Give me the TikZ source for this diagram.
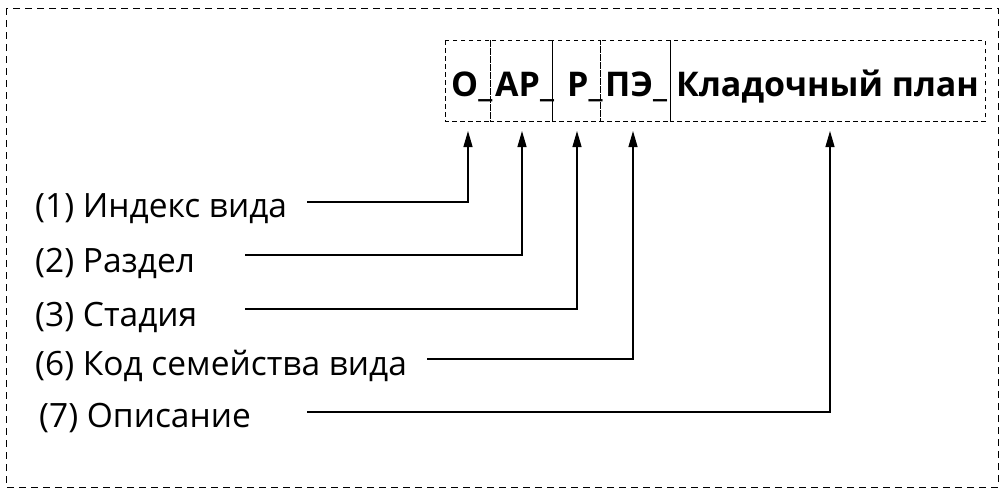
\documentclass[tikz,border=0pt]{standalone}
\usepackage{fontspec}
\setmainfont{Open Sans}
\usetikzlibrary{arrows.meta}
\begin{document}
\begin{tikzpicture}[x=1pt,y=-1pt,
  frame/.style={draw,line width=1pt,dash pattern=on 7pt off 5pt},
  cell/.style={draw,line width=0.8pt,dash pattern=on 4.5pt off 3.5pt},
  lbl/.style={anchor=base west,inner sep=0pt,font=\fontsize{33.5}{36}\selectfont},
  code/.style={anchor=base west,inner sep=0pt,font=\fontsize{34}{36}\selectfont\bfseries},
  conn/.style={draw,line width=1.2pt,-{Triangle[length=16pt,width=9pt]}}]
\useasboundingbox (0,0) rectangle (1006,496);
\draw[frame] (6,8) rectangle (998,487);
% cells
\draw[cell] (445,40) rectangle (490,121);
\draw[cell] (490,40) rectangle (552,121);
\draw[cell] (552,40) rectangle (600,121);
\draw[cell] (600,40) rectangle (670,121);
\draw[cell] (670,40) rectangle (985,121);
\node[code] (t1) at (451,96) {О\_};
\node[code] (t2) at (495,96) {АР\_};
\node[code] (t3) at (567,96) {Р\_};
\node[code] (t4) at (605,96) {ПЭ\_};
\node[code] (t5) at (676,96) {Кладочный план};
% targets
\coordinate (a1) at (468,131);
\coordinate (a2) at (522,131);
\coordinate (a3) at (577,131);
\coordinate (a4) at (633,131);
\coordinate (a5) at (830,131);
% labels
\node[lbl] (l1) at (35,217) {(1) Индекс вида};
\node[lbl] (l2) at (35,272) {(2) Раздел};
\node[lbl] (l3) at (35,326) {(3) Стадия};
\node[lbl] (l4) at (35,375) {(6) Код семейства вида};
\node[lbl] (l5) at (39,427) {(7) Описание};
\coordinate (s1) at (307,202);
\coordinate (s2) at (245,255);
\coordinate (s3) at (245,309);
\coordinate (s4) at (427,359);
\coordinate (s5) at (307,412);
\draw[conn] (s1) -| (a1);
\draw[conn] (s2) -| (a2);
\draw[conn] (s3) -| (a3);
\draw[conn] (s4) -| (a4);
\draw[conn] (s5) -| (a5);
\end{tikzpicture}
\end{document}
